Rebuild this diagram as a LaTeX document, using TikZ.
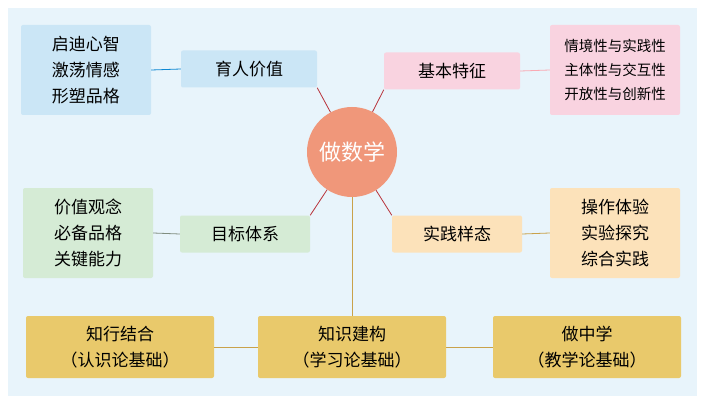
\documentclass[tikz,border=0pt]{standalone}
\usepackage{fontspec}
\setmainfont{Noto Sans CJK SC}
\definecolor{bgblue}{HTML}{E8F4FB}
\definecolor{lblue}{HTML}{CBE6F6}
\definecolor{lpink}{HTML}{F9D3E0}
\definecolor{lgreen}{HTML}{D5EBD5}
\definecolor{lorange}{HTML}{FCE2BA}
\definecolor{gold}{HTML}{E9C96B}
\definecolor{salmon}{HTML}{F0977A}
\definecolor{linered}{HTML}{B8323A}
\definecolor{linegold}{HTML}{C9A24A}
\tikzset{
  box/.style={rounded corners=2pt, minimum width=#1, align=center, inner sep=3pt},
  side/.style={box=130pt, minimum height=90pt, font=\fontsize{17}{26}\selectfont},
  mid/.style={box=136pt, minimum height=37pt, font=\fontsize{17}{20}\selectfont},
  base/.style={box=188pt, minimum height=62pt, fill=gold, font=\fontsize{17}{26}\selectfont},
  red/.style={linered, line width=0.8pt},
}
\begin{document}
\begin{tikzpicture}[x=1pt,y=-1pt]
  \useasboundingbox (0,0) rectangle (705,404);
  \fill[bgblue] (8,8) rectangle (697,396);
  % centre
  \node[circle, fill=salmon, minimum size=90pt, text=white,
        font=\fontsize{22}{24}\selectfont] (core) at (352,152) {做数学};
  % upper row
  \node[side, fill=lblue] (mind) at (86,70) {启迪心智\\激荡情感\\形塑品格};
  \node[mid, fill=lblue] (edu) at (249,69) {育人价值};
  \node[mid, fill=lpink] (feat) at (452,71) {基本特征};
  \node[side, fill=lpink, font=\fontsize{14.5}{24}\selectfont] (traits) at (615,70)
        {情境性与实践性\\主体性与交互性\\开放性与创新性};
  % middle row
  \node[side, fill=lgreen] (core3) at (88,233) {价值观念\\必备品格\\关键能力};
  \node[mid, fill=lgreen, box=130pt] (goal) at (245,234) {目标体系};
  \node[mid, fill=lorange, box=130pt] (form) at (457,234) {实践样态};
  \node[side, fill=lorange] (acts) at (615,233) {操作体验\\实验探究\\综合实践};
  % bottom row
  \node[base] (left) at (120,347) {知行结合\\（认识论基础）};
  \node[base] (build) at (352,347) {知识建构\\（学习论基础）};
  \node[base] (right) at (587,347) {做中学\\（教学论基础）};
  % connectors
  \draw[cyan!70!blue, line width=0.8pt] (edu.west) -- (mind.east);
  \draw[lpink!80!red, line width=0.8pt] (feat.east) -- (traits.west);
  \draw[lgreen!60!black, line width=0.8pt] (goal.west) -- (core3.east);
  \draw[linegold, line width=0.8pt] (form.east) -- (acts.west);
  \draw[red] (core) -- (edu.south east);
  \draw[red] (core) -- (feat.south west);
  \draw[red] (core) -- (goal.north east);
  \draw[red] (core) -- (form.north west);
  \draw[linegold, line width=0.8pt] (core) -- (build);
  \draw[linegold, line width=0.8pt] (left) -- (build) -- (right);
\end{tikzpicture}
\end{document}
